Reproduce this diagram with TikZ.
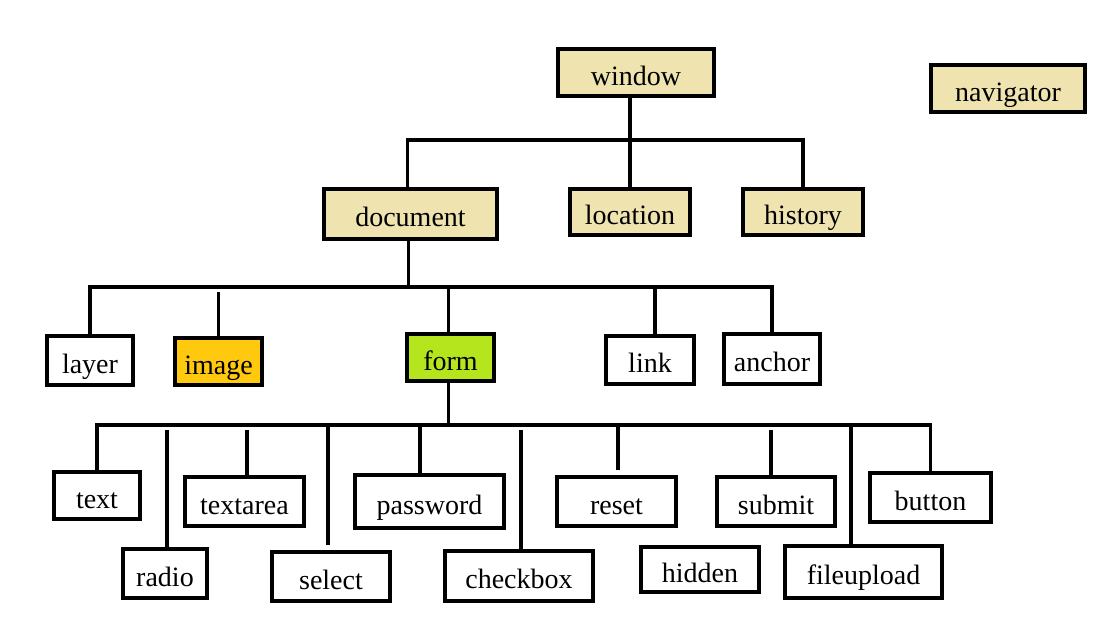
\documentclass[tikz,border=0pt]{standalone}
\usepackage{fontspec}
\setmainfont{Liberation Serif}
\definecolor{tan}{HTML}{EFE4B0}
\definecolor{gold}{HTML}{FFC90E}
\definecolor{lime}{HTML}{B5E61D}

\begin{document}
\begin{tikzpicture}[x=1pt, y=-1pt,
    box/.style={rectangle, draw, line width=3.8pt, inner sep=0pt, text height=27pt, text depth=2pt,
        font=\fontsize{28}{30}\selectfont},
    obj/.style={box, fill=tan},
    size/.style 2 args={minimum width=#1pt, minimum height=#2pt},
    wire/.style={line width=3.4pt}]
    \fill[white] (0,0) rectangle (1106,627);

    % objects
    \node[obj, size={156}{47}] (window) at (636,72.5) {window};
    \node[obj, size={154}{47}] (navigator) at (1008,88.5) {navigator};
    \node[obj, size={173}{50}] (document) at (410.5,214) {document};
    \node[obj, size={120}{46}] (location) at (630,212) {location};
    \node[obj, size={120}{46}] (history) at (803,212) {history};

    % document children
    \node[box, size={86}{49}] (layer) at (90,360.5) {layer};
    \node[box, fill=gold, size={87}{47}] (image) at (218.5,361.5) {image};
    \node[box, fill=lime, size={87}{47}] (form) at (450.5,357.5) {form};
    \node[box, size={88}{48}] (link) at (650,360) {link};
    \node[box, size={96}{50}] (anchor) at (772,359) {anchor};

    % form elements
    \node[box, size={86}{47}] (text) at (97,495.5) {text};
    \node[box, size={84}{49}] (radio) at (165,573.5) {radio};
    \node[box, size={119}{49}] (textarea) at (244.5,501.5) {textarea};
    \node[box, size={118}{49}] (select) at (331,576.5) {select};
    \node[box, size={149}{53}] (password) at (429.5,501.5) {password};
    \node[box, size={148}{50}] (checkbox) at (519,576) {checkbox};
    \node[box, size={119}{49}] (reset) at (616.5,501.5) {reset};
    \node[box, size={118}{45}] (hidden) at (700,569.5) {hidden};
    \node[box, size={118}{49}] (submit) at (776,501.5) {submit};
    \node[box, size={157}{52}] (fileupload) at (863.5,572) {fileupload};
    \node[box, size={121}{49}] (button) at (930.5,497.5) {button};

    \coordinate (bus1) at (0,140);
    \coordinate (bus2) at (0,287);
    \coordinate (bus3) at (0,425);

    % window level
    \draw[wire] (window.south -| location.north) -- (location.north);
    \draw[wire] ([xshift=-3pt]document.north) -- ([xshift=-3pt]document.north |- bus1) -- (history.north |- bus1) -- (history.north);

    % document level
    \draw[wire] ([xshift=-2pt]document.south) -- ([xshift=-2pt]document.south |- bus2);
    \draw[wire] (layer.north) -- (layer.north |- bus2) -- (anchor.north |- bus2) -- (anchor.north);
    \draw[wire, shorten <=5pt] (image.north |- bus2) -- (image.north);
    \draw[wire] ([xshift=-2pt]form.north |- bus2) -- ([xshift=-2pt]form.north);
    \draw[wire] ([xshift=5pt]link.north |- bus2) -- ([xshift=5pt]link.north);

    % form level
    \draw[wire] ([xshift=-2pt]form.south) -- ([xshift=-2pt]form.south |- bus3);
    \draw[wire] (text.north) -- (text.north |- bus3) -- (button.north |- bus3) -- (button.north);
    \draw[wire, shorten <=5pt] ([xshift=2pt]radio.north |- bus3) -- ([xshift=2pt]radio.north);
    \draw[wire, shorten <=5pt] ([xshift=2.5pt]textarea.north |- bus3) -- ([xshift=2.5pt]textarea.north);
    \draw[wire, shorten >=5pt] ([xshift=-3pt]select.north |- bus3) -- ([xshift=-3pt]select.north);
    \draw[wire] ([xshift=-9.5pt]password.north |- bus3) -- ([xshift=-9.5pt]password.north);
    \draw[wire, shorten <=5pt] ([xshift=2pt]checkbox.north |- bus3) -- ([xshift=2pt]checkbox.north);
    \draw[wire, shorten >=5pt] ([xshift=1.5pt]reset.north |- bus3) -- ([xshift=1.5pt]reset.north);
    \draw[wire, shorten <=5pt] ([xshift=-5pt]submit.north |- bus3) -- ([xshift=-5pt]submit.north);
    \draw[wire] ([xshift=-12.5pt]fileupload.north |- bus3) -- ([xshift=-12.5pt]fileupload.north);
\end{tikzpicture}
\end{document}
